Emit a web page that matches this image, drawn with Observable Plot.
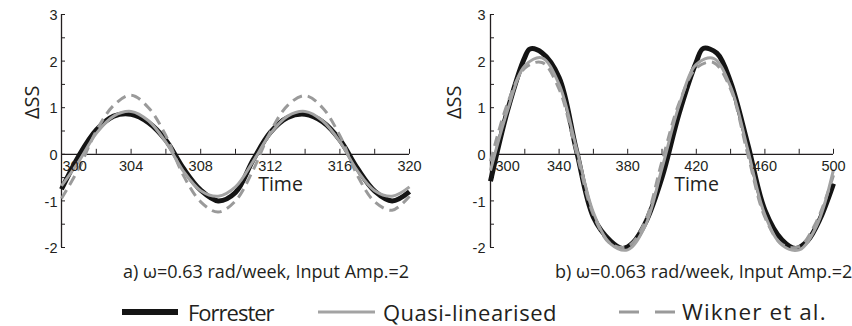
<!DOCTYPE html>
<html><head><meta charset="utf-8">
<script src="https://cdn.jsdelivr.net/npm/d3@7"></script>
<script src="https://cdn.jsdelivr.net/npm/@observablehq/plot@0.6"></script>
<style>
html,body{margin:0;padding:0;background:#fff;}
#root{position:relative;width:852px;height:326px;overflow:hidden;font-family:"Open Sans",sans-serif;color:#231f20;}
.panel{position:absolute;top:0;}
.cap{position:absolute;font-size:18px;white-space:nowrap;line-height:20px;}
.leg{position:absolute;font-size:22px;white-space:nowrap;line-height:26px;}
.sw{position:absolute;}
</style></head><body><div id="root"></div>
<script>
// ---- data ----
const timeA = [300,301,302,303,304,305,306,307,308,309,310,311,312,313,314,315,316,317,318,319,320];
const forresterA = [-0.75,-0.03,0.52,0.82,0.86,0.68,0.30,-0.30,-0.77,-1.00,-0.82,-0.13,0.47,0.79,0.86,0.70,0.31,-0.30,-0.79,-1.00,-0.80];
const quasiA     = [-0.68,-0.15,0.45,0.82,0.92,0.72,0.26,-0.36,-0.78,-0.90,-0.70,-0.16,0.44,0.82,0.92,0.72,0.27,-0.35,-0.78,-0.90,-0.70];
const wiknerA    = [-0.95,-0.30,0.50,1.05,1.27,1.00,0.40,-0.45,-1.02,-1.24,-1.00,-0.35,0.48,1.05,1.26,1.00,0.40,-0.45,-1.02,-1.20,-0.90];

const forresterTimeB = [300,310,320,323,330,340,350,360,370,377,383,391,400,410,420,424,432,440,450,460,470,478,485,492,500];
const forresterB     = [-0.58,0.95,2.08,2.26,2.18,1.65,0.10,-1.35,-1.86,-2.02,-1.90,-1.42,-0.50,0.88,1.98,2.27,2.17,1.55,0.22,-1.20,-1.84,-2.02,-1.85,-1.40,-0.63];
const timeB   = [300,310,320,330,340,350,360,370,380,390,400,410,420,430,440,450,460,470,480,490,500];
const quasiB  = [-0.35,0.95,1.90,2.07,1.50,0.15,-1.25,-1.92,-2.05,-1.55,-0.30,1.05,1.93,2.06,1.45,0.10,-1.30,-1.95,-2.05,-1.55,-0.33];
const wiknerB = [-0.15,1.10,1.85,1.97,1.40,0.05,-1.30,-1.92,-1.98,-1.45,-0.15,1.10,1.85,1.97,1.40,0.00,-1.35,-1.93,-1.98,-1.45,-0.45];

const xTicksA  = [300,302,304,306,308,310,312,314,316,318,320];
const xLabelsA = [300,304,308,312,316,320];
const xTicksB  = [300,320,340,360,380,400,420,440,460,480,500];
const xLabelsB = [300,340,380,420,460,500];
const yTicks   = [-2,-1.5,-1,-0.5,0,0.5,1,1.5,2,2.5,3];
const yLabels  = [-2,-1,0,1,2,3];
const yTitle = "ΔSS";
const xTitle = "Time";
const seriesNames = ["Forrester","Quasi-linearised","Wikner et al."];
const captions = ["a) ω=0.63 rad/week, Input Amp.=2","b) ω=0.063 rad/week, Input Amp.=2"];

// ---- styles ----
const INK = "#231f20";
const styles = {
  "Forrester": {stroke:"#141414", strokeWidth:5},
  "Quasi-linearised": {stroke:"#a3a3a3", strokeWidth:3},
  "Wikner et al.": {stroke:"#9a9a9a", strokeWidth:3, strokeDasharray:"10,6"}
};
const tickFont = '"Liberation Sans", Arial, sans-serif';

function rows(t, v){ return t.map((d,i)=>({t:d, v:v[i]})); }

function panel(o){
  const W=426, H=260, MT=14, MB=13;
  const yDomain=[-2,3];
  const pxY=(H-MT-MB)/(yDomain[1]-yDomain[0]);
  const pxX=(W-o.ml-o.mr)/(o.xDomain[1]-o.xDomain[0]);
  const x0=o.xDomain[0];
  const line=(data,name)=>Plot.line(data,{x:"t",y:"v",curve:"catmull-rom",strokeLinejoin:"round",strokeLinecap:"butt",...styles[name]});
  return Plot.plot({
    width:W, height:H, marginLeft:o.ml, marginRight:o.mr, marginTop:MT, marginBottom:MB,
    x:{domain:o.xDomain, axis:null},
    y:{domain:yDomain, axis:null},
    style:{background:"transparent", overflow:"visible", fontFamily:tickFont, fontSize:"14.5px", color:INK},
    marks:[
      Plot.ruleX([x0],{x:d=>d, y1:yDomain[0], y2:yDomain[1], stroke:INK, strokeWidth:1.3}),
      Plot.ruleY([0],{y:d=>d, x1:o.xDomain[0], x2:o.xDomain[1], stroke:INK, strokeWidth:1.3}),
      Plot.ruleX(o.xTicks,{x:d=>d, y1:0, y2:5/pxY, stroke:INK, strokeWidth:1}),
      Plot.ruleY(yTicks,{y:d=>d, x1:x0, x2:x0+4/pxX, stroke:INK, strokeWidth:1}),
      line(o.forrester,"Forrester"),
      line(o.wikner,"Wikner et al."),
      line(o.quasi,"Quasi-linearised"),
      Plot.text([o.xLabels[0]],{x:d=>d, y:0, dy:12, dx:o.firstDx, textAnchor:"start", text:d=>String(d), fill:INK}),
      Plot.text(o.xLabels.slice(1),{x:d=>d, y:0, dy:12, text:d=>String(d), fill:INK}),
      Plot.text(yLabels,{x:x0, y:d=>d, dx:o.yLabDx, dy:1, textAnchor:"end", text:d=>String(d), fill:INK}),
      Plot.text([yTitle],{frameAnchor:"left", rotate:-90, dx:o.yTitleDx, dy:-12, fontFamily:'"Open Sans", sans-serif', fontSize:20, fill:INK}),
      Plot.text([xTitle],{frameAnchor:"middle", dx:o.timeDx, dy:54, fontFamily:'"Open Sans", sans-serif', fontSize:19.5, fill:INK})
    ]
  });
}

const root=document.getElementById("root");
const pA=panel({xDomain:[300,320], xTicks:xTicksA, xLabels:xLabelsA, ml:61, mr:17, firstDx:1, yLabDx:-4, yTitleDx:-29, timeDx:45,
  forrester:rows(timeA,forresterA), quasi:rows(timeA,quasiA), wikner:rows(timeA,wiknerA)});
const pB=panel({xDomain:[300,500], xTicks:xTicksB, xLabels:xLabelsB, ml:64, mr:19, firstDx:5, yLabDx:-5, yTitleDx:-36, timeDx:34.5,
  forrester:rows(forresterTimeB,forresterB), quasi:rows(timeB,quasiB), wikner:rows(timeB,wiknerB)});
pA.classList.add("panel"); pA.style.left="0px";
pB.classList.add("panel"); pB.style.left="426px";
root.appendChild(pA); root.appendChild(pB);

function addDiv(cls,text,left,top,spacing,size){
  const d=document.createElement("div"); d.className=cls; d.textContent=text;
  d.style.left=left+"px"; d.style.top=top+"px";
  if(spacing) d.style.letterSpacing=spacing+"px";
  if(size) d.style.fontSize=size+"px";
  root.appendChild(d); return d;
}
const capY=271;
addDiv("cap",captions[0],123,capY-10);
addDiv("cap",captions[1],555,capY-10);

function swatch(name,left,width,cy){
  const s=styles[name];
  const ns="http://www.w3.org/2000/svg";
  const svg=document.createElementNS(ns,"svg");
  svg.setAttribute("class","sw"); svg.setAttribute("width",width); svg.setAttribute("height",10);
  svg.style.left=left+"px"; svg.style.top=(cy-5)+"px";
  const l=document.createElementNS(ns,"line");
  l.setAttribute("x1",0); l.setAttribute("x2",width); l.setAttribute("y1",5); l.setAttribute("y2",5);
  l.setAttribute("stroke",s.stroke);
  l.setAttribute("stroke-width", name==="Forrester"?6:3);
  if(name==="Wikner et al.") l.setAttribute("stroke-dasharray","20,16");
  svg.appendChild(l); root.appendChild(svg);
}
const legendY=312;
swatch(seriesNames[0],122,56,legendY);
addDiv("leg",seriesNames[0],188,legendY-13,-1);
swatch(seriesNames[1],318,57,legendY);
addDiv("leg",seriesNames[1],383,legendY-13,0.5);
swatch(seriesNames[2],619,56,legendY);
addDiv("leg",seriesNames[2],682,legendY-13,1.1,22.5);
</script></body></html>
